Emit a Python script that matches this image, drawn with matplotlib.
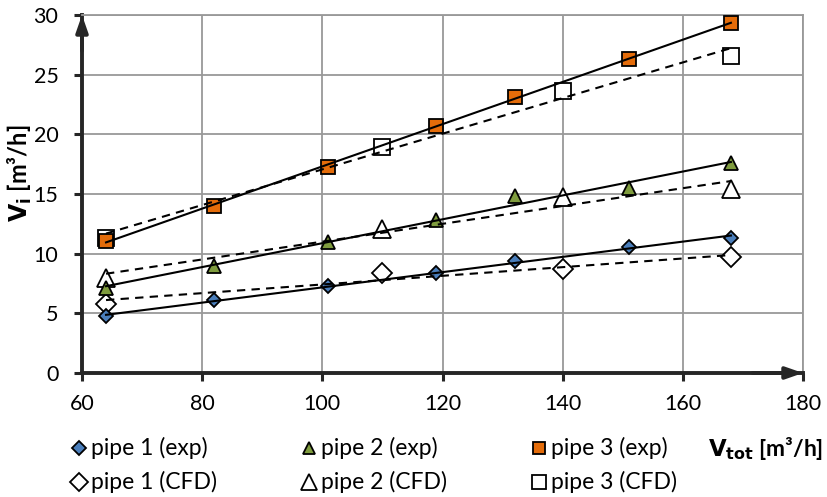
import numpy as np
import matplotlib
matplotlib.use("Agg")
import matplotlib.pyplot as plt
from matplotlib.lines import Line2D

plt.rcParams['font.family'] = ['Lato', 'DejaVu Sans']

# data
x_exp = [64, 82, 101, 119, 132, 151, 168]
pipe1_exp = [4.75, 6.1, 7.25, 8.35, 9.35, 10.6, 11.3]
pipe2_exp = [7.15, 9.0, 10.95, 12.85, 14.8, 15.5, 17.6]
pipe3_exp = [11.1, 14.0, 17.3, 20.7, 23.15, 26.35, 29.3]

x_cfd = [64, 110, 140, 168]
pipe1_cfd = [5.8, 8.4, 8.75, 9.7]
pipe2_cfd = [7.95, 12.05, 14.75, 15.4]
pipe3_cfd = [11.3, 18.95, 23.65, 26.6]

xticks = [60, 80, 100, 120, 140, 160, 180]
yticks = [0, 5, 10, 15, 20, 25, 30]

c_blue = '#4a7ebb'
c_green = '#7f9c3e'
c_orange = '#e46c0a'
dark = '#262626'
grid = '#999999'

fig = plt.figure(figsize=(8.27, 4.97), dpi=100)
ax = fig.add_axes([82/827, 124/497, 721/827, 358/497])

ax.set_xlim(60, 180)
ax.set_ylim(0, 30)
ax.set_xticks(xticks)
ax.set_yticks(yticks)
ax.grid(True, color=grid, lw=1.3, zorder=0)
ax.set_axisbelow(True)

for s in ['top', 'right']:
    ax.spines[s].set_color(grid)
    ax.spines[s].set_linewidth(1.3)
for s in ['left', 'bottom']:
    ax.spines[s].set_color(dark)
    ax.spines[s].set_linewidth(2.8)

ax.tick_params(axis='both', direction='out', length=6, width=2.2, color=dark,
               labelsize=15.5, labelcolor='black')
ax.tick_params(axis='y', pad=11)
ax.tick_params(axis='x', pad=9)

ekw = dict(linestyle='none', markeredgecolor='black', markeredgewidth=1.3, zorder=3, clip_on=False)
series = [
    (x_cfd, pipe1_cfd, 'D', 10, 'white', 'pipe 1 (CFD)'),
    (x_cfd, pipe2_cfd, '^', 13, 'white', 'pipe 2 (CFD)'),
    (x_cfd, pipe3_cfd, 's', 12, 'white', 'pipe 3 (CFD)'),
    (x_exp, pipe1_exp, 'D', 7.5, c_blue, 'pipe 1 (exp)'),
    (x_exp, pipe2_exp, '^', 10, c_green, 'pipe 2 (exp)'),
    (x_exp, pipe3_exp, 's', 10, c_orange, 'pipe 3 (exp)'),
]
for xd, yd, m, ms, fc, lab in series:
    ax.plot(xd, yd, marker=m, ms=ms, markerfacecolor=fc, label=lab, **ekw)

# linear trendlines
xs = np.array([64, 168])
for xd, yd in [(x_exp, pipe1_exp), (x_exp, pipe2_exp), (x_exp, pipe3_exp)]:
    p = np.polyfit(xd, yd, 1)
    ax.plot(xs, np.polyval(p, xs), color='black', lw=1.5, zorder=4)
for xd, yd in [(x_cfd, pipe1_cfd), (x_cfd, pipe2_cfd), (x_cfd, pipe3_cfd)]:
    p = np.polyfit(xd, yd, 1)
    ax.plot(xs, np.polyval(p, xs), color='black', lw=1.5, ls=(0, (4, 3)), zorder=4)

# axis arrows
ax.annotate('', xy=(0, 1.0), xytext=(0, 0.9), xycoords='axes fraction',
            arrowprops=dict(arrowstyle='-|>,head_length=1.0,head_width=0.35', lw=2.8, color=dark,
                            shrinkA=0, shrinkB=0), annotation_clip=False, zorder=6)
ax.annotate('', xy=(1.0, 0), xytext=(0.93, 0), xycoords='axes fraction',
            arrowprops=dict(arrowstyle='-|>,head_length=1.0,head_width=0.35', lw=2.8, color=dark,
                            shrinkA=0, shrinkB=0), annotation_clip=False, zorder=6)

# axis labels
fig.text(20/827, 1 - 173/497, r'$\mathbf{V_i}$' + ' [m³/h]', rotation=90, ha='center', va='center',
         fontsize=17, fontweight='bold')
fig.text(823/827, 1 - 448/497, r'$\mathbf{V_{tot}}$' + ' [m³/h]', ha='right', va='center',
         fontsize=16.5, fontweight='bold')

# legend (manual placement)
leg_items = [
    ('D', 7, c_blue, 'pipe 1 (exp)', 79, 448),
    ('D', 9, 'white', 'pipe 1 (CFD)', 79, 482),
    ('^', 8, c_green, 'pipe 2 (exp)', 309, 448),
    ('^', 11, 'white', 'pipe 2 (CFD)', 309, 482),
    ('s', 9, c_orange, 'pipe 3 (exp)', 539, 448),
    ('s', 10.5, 'white', 'pipe 3 (CFD)', 539, 482),
]
for m, ms, fc, lab, px, py in leg_items:
    fig.add_artist(Line2D([px / 827], [1 - py / 497], transform=fig.transFigure, marker=m, ms=ms,
                          markerfacecolor=fc, markeredgecolor='black', markeredgewidth=1.3,
                          linestyle='none'))
    fig.text((px + 12) / 827, 1 - py / 497, lab, ha='left', va='center', fontsize=16.5)

fig.savefig('out.png', dpi=100)
